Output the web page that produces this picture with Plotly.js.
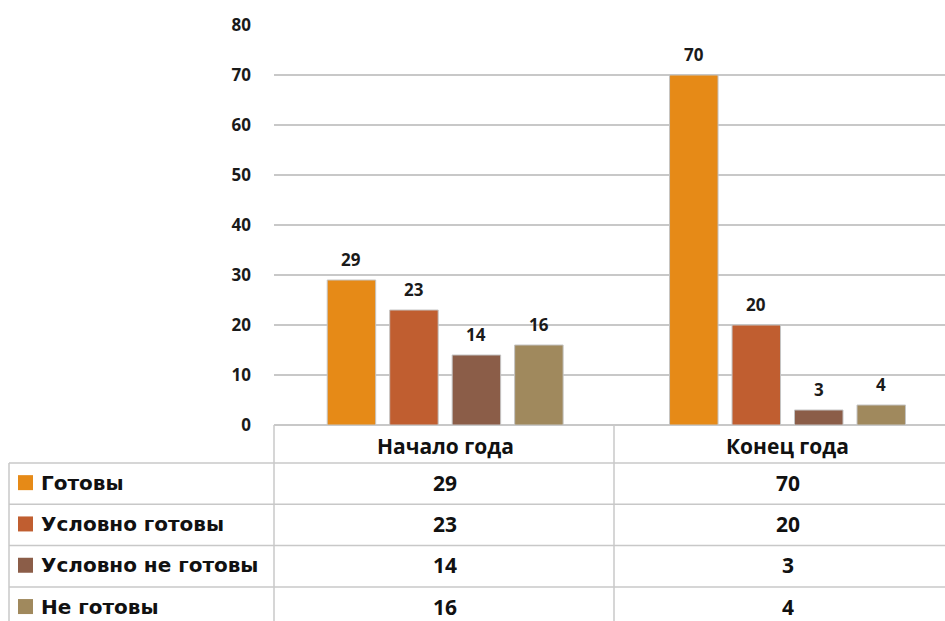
<!DOCTYPE html>
<html>
<head>
<meta charset="utf-8">
<script src="https://cdn.plot.ly/plotly-3.0.1.min.js"></script>
<style>html,body{margin:0;padding:0;background:#fff;}#chart{width:945px;height:621px;}</style>
</head>
<body>
<div id="chart"></div>
<script>
const categories = ["Начало года", "Конец года"];
const seriesNames = ["Готовы", "Условно готовы", "Условно не готовы", "Не готовы"];
const gotovy = [29, 70];
const uslovnoGotovy = [23, 20];
const uslovnoNeGotovy = [14, 3];
const neGotovy = [16, 4];
const seriesColors = ["#E68A17", "#C05E30", "#8B5D48", "#A0895D"];
const yTicks = [0, 10, 20, 30, 40, 50, 60, 70, 80];

const seriesValues = [gotovy, uslovnoGotovy, uslovnoNeGotovy, neGotovy];

const W = 945, H = 621;
const L = 274, T = 25, B = 196;
const plotW = W - L, plotH = H - T - B;
const px = X => (X - L) / plotW;
const py = Y => (T + plotH - Y) / plotH;

const bargap = 0.27, bargroupgap = 0.224;
const slot = (1 - bargap) / seriesValues.length;

const mainFont = "Open Sans, sans-serif";
const legFont = "DejaVu Sans, sans-serif";
const lineColor = "#C8C8C8";

const traces = seriesValues.map((vals, j) => ({
  type: "bar",
  name: seriesNames[j],
  x: categories,
  y: vals,
  marker: {color: seriesColors[j], line: {color: "#C4C4C4", width: 1}},
  hoverinfo: "none"
}));

const annotations = [];
const shapes = [];

// data labels
seriesValues.forEach((vals, j) => {
  vals.forEach((v, i) => {
    annotations.push({
      xref: "x", yref: "y", x: i + (j - (seriesValues.length - 1) / 2) * slot, y: v,
      text: "<b>" + v + "</b>", showarrow: false, yanchor: "bottom", yshift: 7,
      font: {family: mainFont, size: 17, color: "#1a1a1a"}
    });
  });
});

// table header
const headerY = 446;
categories.forEach((c, i) => {
  annotations.push({
    xref: "x", yref: "paper", x: i, y: py(headerY), text: "<b>" + c + "</b>",
    showarrow: false, yanchor: "middle",
    font: {family: mainFont, size: 21, color: "#111"}
  });
});

// rows
const rowTop = 463, rowH = 41.3;
seriesNames.forEach((name, j) => {
  const cy = rowTop + rowH * (j + 0.5) - 1;
  annotations.push({
    xref: "paper", yref: "paper", x: px(40), y: py(cy), text: "<b>" + name + "</b>",
    showarrow: false, xanchor: "left", yanchor: "middle", borderpad: 0,
    font: {family: legFont, size: 20, color: "#111"}
  });
  shapes.push({
    type: "rect", xref: "paper", yref: "paper",
    x0: px(18), x1: px(33), y0: py(cy - 7.5), y1: py(cy + 7.5),
    fillcolor: seriesColors[j], line: {width: 0}
  });
  seriesValues[j].forEach((v, i) => {
    annotations.push({
      xref: "x", yref: "paper", x: i, y: py(cy), text: "<b>" + v + "</b>",
      showarrow: false, yanchor: "middle", borderpad: 0,
      font: {family: mainFont, size: 21, color: "#111"}
    });
  });
  shapes.push({
    type: "line", xref: "paper", yref: "paper",
    x0: px(9), x1: 1, y0: py(rowTop + rowH * j), y1: py(rowTop + rowH * j),
    line: {color: lineColor, width: 1.5}
  });
});

// vertical lines
[[274, 425], [614, 425], [9, rowTop]].forEach(([X, y0]) => {
  shapes.push({
    type: "line", xref: "paper", yref: "paper",
    x0: px(X), x1: px(X), y0: py(y0), y1: py(H + 5),
    line: {color: lineColor, width: 1.5}
  });
});

const layout = {
  width: W, height: H,
  margin: {l: L, r: 0, t: T, b: B, pad: 0},
  paper_bgcolor: "#fff", plot_bgcolor: "#fff",
  barmode: "group", bargap: bargap, bargroupgap: bargroupgap,
  showlegend: false,
  xaxis: {type: "category", range: [-0.5, 1.46], showticklabels: false, ticks: "", showgrid: false, zeroline: false, showline: false, fixedrange: true},
  yaxis: {range: [0, 80], tickvals: yTicks, ticktext: yTicks.map(t => "<b>" + t + "</b>"),
    showgrid: true, gridcolor: lineColor, gridwidth: 1.5, zeroline: true, zerolinecolor: lineColor, zerolinewidth: 1.5,
    showline: false, ticks: "", ticklabelstandoff: 22,
    tickfont: {family: mainFont, size: 17, color: "#1a1a1a"}, fixedrange: true},
  annotations: annotations,
  shapes: shapes
};

Plotly.newPlot("chart", traces, layout, {displayModeBar: false, staticPlot: true});
</script>
</body>
</html>
